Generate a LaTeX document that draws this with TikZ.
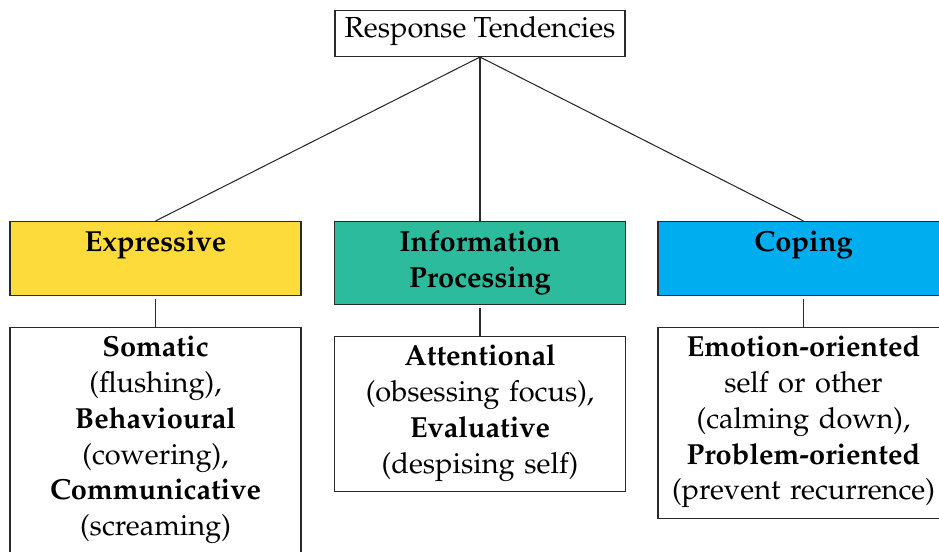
\documentclass[tikz,border=0pt]{standalone}
\usepackage[T1]{fontenc}
\usepackage{mathpazo}
\usetikzlibrary{positioning}
\definecolor{expcolor}{HTML}{FDDB3A}
\definecolor{infocolor}{HTML}{2DBB9D}
\definecolor{copecolor}{HTML}{00AEEF}
\definecolor{edgecolor}{HTML}{2A2A2A}

\begin{document}
\begin{tikzpicture}[
    % Node styles
    rootnode/.style={
        rectangle, draw=edgecolor, fill=white, line width=0.6pt,
        minimum width=5.8cm, inner ysep=0pt,
        text height=0.54cm, text depth=0.38cm,
        font=\fontsize{16.5}{20.4}\selectfont
    },
    catnode/.style={
        rectangle, draw=edgecolor, line width=0.6pt,
        text width=5.5cm, inner xsep=0.16cm, inner ysep=0.2cm,
        align=center, anchor=north, text height=0.4cm,
        font=\fontsize{16.5}{20.4}\selectfont\bfseries
    },
    detailnode/.style={
        rectangle, draw=edgecolor, fill=white, line width=0.6pt,
        text width=5.5cm, inner xsep=0.16cm, inner ysep=0.2cm,
        align=center, text height=0.38cm,
        font=\fontsize{16.5}{20.4}\selectfont
    },
    % Edge styles
    treeedge/.style={line width=0.6pt, edgecolor},
    stemedge/.style={line width=0.6pt, edgecolor, shorten <=1.7pt}
]
\useasboundingbox (0,0) rectangle (18.78,11.04);
\clip (0,0) rectangle (18.78,11.04);

% ============ ROOT ============
\node[rootnode, anchor=north] (root) at (9.6, 10.84) {Response Tendencies};

% ============ CATEGORIES ============
\node[catnode, fill=expcolor, text depth=0.68cm] (exp) at (3.11, 6.62) {Expressive};
\node[catnode, fill=infocolor] (info) at (9.6, 6.62) {Information\\Processing};
\node[catnode, fill=copecolor, text depth=0.68cm] (cope) at (16.07, 6.62) {Coping};

% ============ DETAILS ============
\node[detailnode, below=0.62cm of exp] (expd) {
    \textbf{Somatic}\\(flushing),\\\textbf{Behavioural}\\(cowering),\\
    \textbf{Communicative}\\(screaming)
};
\node[detailnode, below=0.62cm of info] (infod) {
    \textbf{Attentional}\\(obsessing focus),\\\textbf{Evaluative}\\(despising self)
};
\node[detailnode, below=0.62cm of cope] (coped) {
    \textbf{Emotion-oriented}\\self or other\\(calming down),\\
    \textbf{Problem-oriented}\\(prevent recurrence)
};

% ============ EDGES ============
% Root to categories
\draw[treeedge] (root.south) -- (exp.north);
\draw[treeedge] (root.south) -- (info.north);
\draw[treeedge] (root.south) -- (cope.north);

% Categories to details
\draw[stemedge] (exp.south) -- (expd.north);
\draw[stemedge] (info.south) -- (infod.north);
\draw[stemedge] (cope.south) -- (coped.north);

\end{tikzpicture}
\end{document}
